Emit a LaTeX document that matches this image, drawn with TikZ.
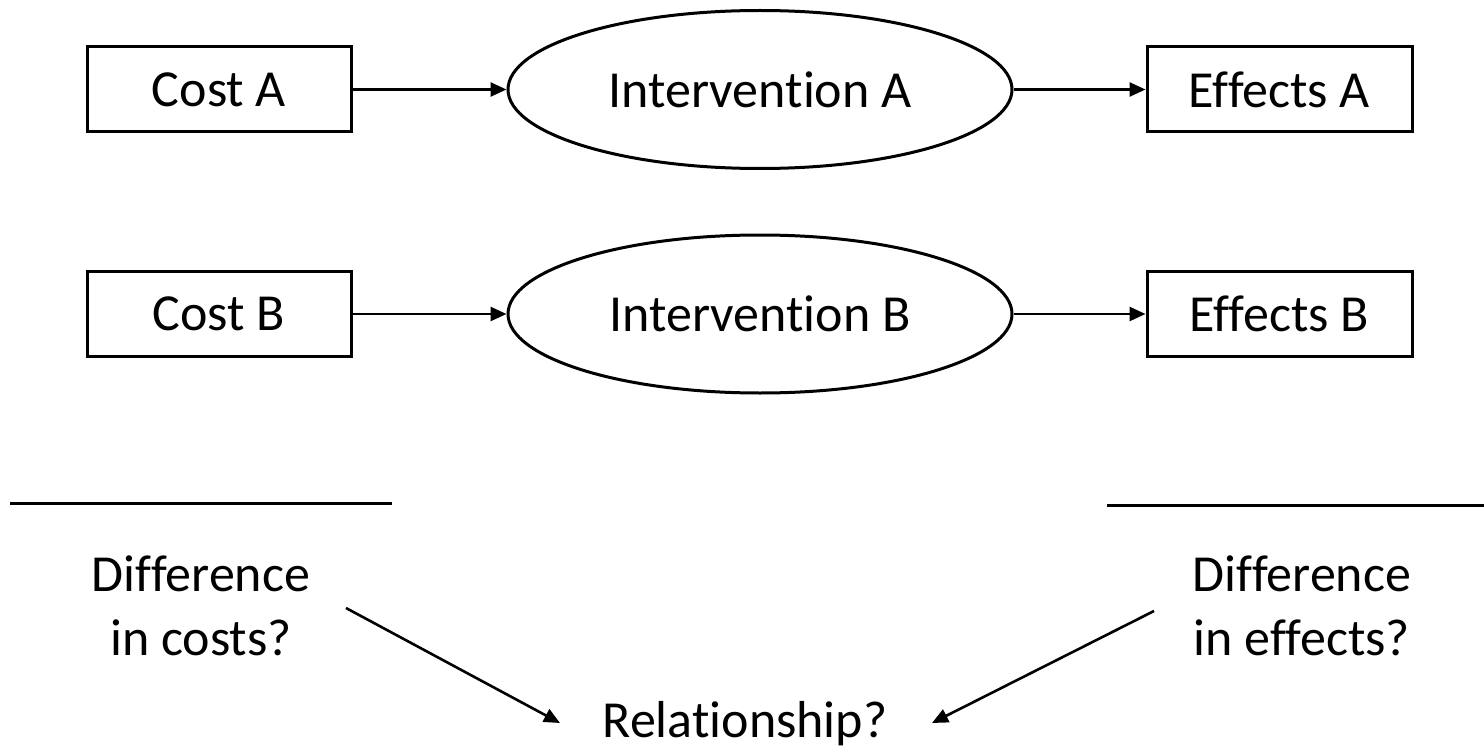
\documentclass[tikz,border=0pt]{standalone}
\usepackage{fontspec}
\setmainfont{Carlito}[RawFeature={-liga;-clig;-dlig}]
\usetikzlibrary{arrows.meta,shapes.geometric}
\begin{document}
\begin{tikzpicture}[x=1pt,y=-1pt,
  every node/.style={font=\fontsize{52}{64}\selectfont},
  boxnode/.style={draw,line width=3pt,minimum width=264pt,minimum height=85pt,inner sep=0pt},
  ellnode/.style={draw,ellipse,line width=3pt,minimum width=504pt,minimum height=158pt,inner sep=0pt},
  conn/.style={line width=2.6pt,-{Triangle[length=16pt,width=14pt]}},
  rulestyle/.style={line width=3pt},
  labeltext/.style={align=center,inner sep=0pt}]
\useasboundingbox (0,0) rectangle (1484,749);
% row A
\node[boxnode] (costA) at (219,89.5) {Cost A};
\node[ellnode] (intA) at (760,89.5) {Intervention A};
\node[boxnode,minimum width=265pt] (effA) at (1279.5,89.5) {Effects A};
\draw[conn] (costA.east) -- (intA.west);
\draw[conn] (intA.east) -- (effA.west);
% row B
\node[boxnode] (costB) at (219,314) {Cost B};
\node[ellnode] (intB) at (760,314) {Intervention B};
\node[boxnode,minimum width=265pt] (effB) at (1279.5,314) {Effects B};
\draw[conn] (costB.east) -- (intB.west);
\draw[conn] (intB.east) -- (effB.west);
% rules
\coordinate (lrA) at (10,503);
\coordinate (lrB) at (392,503);
\coordinate (rrA) at (1107,505);
\coordinate (rrB) at (1484,505);
\draw[rulestyle] (lrA) -- (lrB);
\draw[rulestyle] (rrA) -- (rrB);
% texts
\node[labeltext] (dcost) at (201,606) {Difference\\in costs?};
\node[labeltext] (deff) at (1302,606) {Difference\\in effects?};
\node[anchor=base,inner sep=0pt] (rel) at (745,737) {Relationship?};
% bottom arrows
\coordinate (la) at (346,608);
\coordinate (lb) at (560,723);
\coordinate (ra) at (1154,611);
\coordinate (rb) at (932,723);
\draw[conn] (la) -- (lb);
\draw[conn] (ra) -- (rb);
\end{tikzpicture}
\end{document}
